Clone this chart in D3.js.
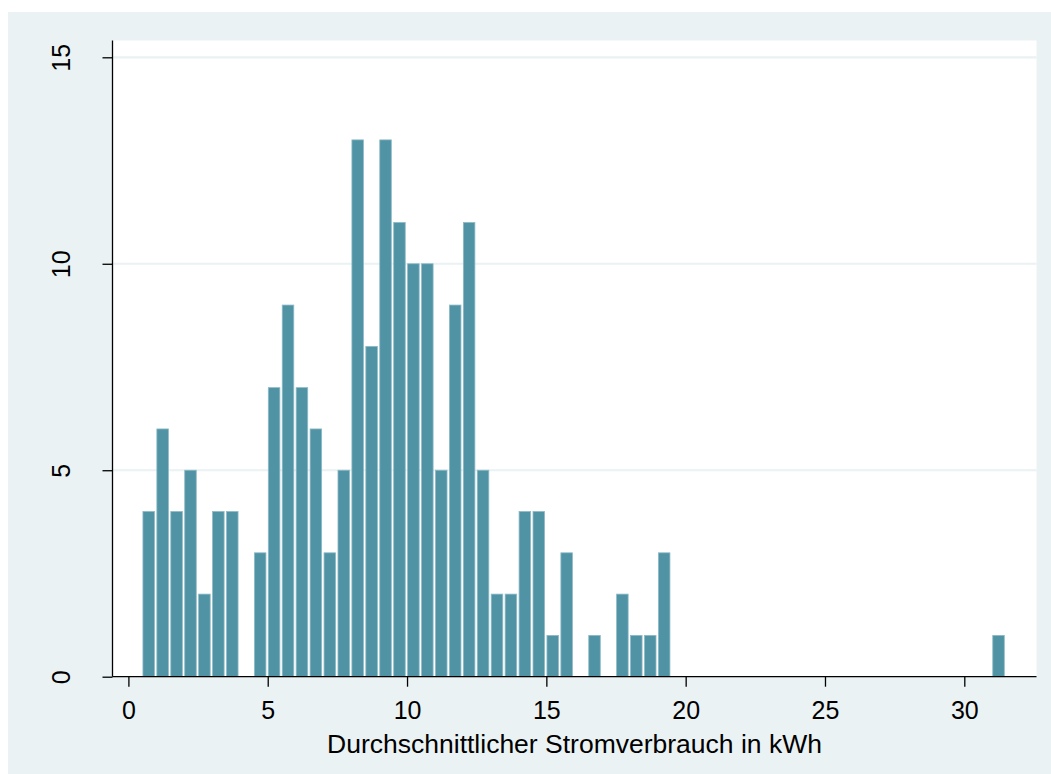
<!DOCTYPE html>
<html>
<head>
<meta charset="utf-8">
<script src="https://cdn.jsdelivr.net/npm/d3@7"></script>
<style>
  body { margin: 0; background: #fff; }
  text { font-family: "Liberation Sans", Arial, sans-serif; fill: #000; }
</style>
</head>
<body>
<div id="chart"></div>
<script>
/*************************************/
/* Data                              */
/*************************************/

// Histogram bins: left edge of first bin and bin width (kWh)
const binStart = 0.5;
const binWidth = 0.5;

// Frequency per bin, from 0.5 kWh upwards
const counts = [
  4, 6, 4, 5, 2, 4, 4, 0, 3, 7,
  9, 7, 6, 3, 5, 13, 8, 13, 11, 10,
  10, 5, 9, 11, 5, 2, 2, 4, 4, 1,
  3, 0, 1, 0, 2, 1, 1, 3, 0, 0,
  0, 0, 0, 0, 0, 0, 0, 0, 0, 0,
  0, 0, 0, 0, 0, 0, 0, 0, 0, 0,
  0, 1
];

const xTicks = [0, 5, 10, 15, 20, 25, 30];
const yTicks = [0, 5, 10, 15];
const xTitle = 'Durchschnittlicher Stromverbrauch in kWh';

const bins = counts.map((c, i) => ({ x0: binStart + i * binWidth, x1: binStart + (i + 1) * binWidth, n: c }));

/*************************************/
/* Layout                            */
/*************************************/

const width = 1051;
const height = 774;
const plot = { left: 112.5, right: 1036.5, top: 40.5, bottom: 676.7 };

const x = d3.scaleLinear().domain([0, 30]).range([128.4, 964.3]);
const y = d3.scaleLinear().domain([0, 15]).range([plot.bottom, 57.3]);

const svg = d3.select('#chart')
  .append('svg')
  .attr('width', width)
  .attr('height', height);

// Outer graph region
svg.append('rect')
  .attr('x', 8).attr('y', 12)
  .attr('width', width - 8).attr('height', height - 12)
  .attr('fill', '#eaf2f3');

// Plot region
svg.append('rect')
  .attr('x', plot.left).attr('y', plot.top)
  .attr('width', plot.right - plot.left).attr('height', plot.bottom - plot.top)
  .attr('fill', '#fff');

// Grid lines
svg.append('g')
  .selectAll('line')
  .data(yTicks.filter(d => d > 0))
  .join('line')
    .attr('x1', plot.left).attr('x2', plot.right)
    .attr('y1', d => y(d)).attr('y2', d => y(d))
    .attr('stroke', '#eaf2f3')
    .attr('stroke-width', 2.2);

// Bars
svg.append('g')
  .selectAll('rect')
  .data(bins.filter(d => d.n > 0))
  .join('rect')
    .attr('x', d => x(d.x0) + 0.6)
    .attr('width', d => x(d.x1) - x(d.x0) - 2.4)
    .attr('y', d => y(d.n))
    .attr('height', d => y(0) - y(d.n))
    .attr('fill', '#4f93a5')
    .attr('stroke', '#8dbac6')
    .attr('stroke-width', 0.8);

// Axis lines
svg.append('line')
  .attr('x1', plot.left).attr('x2', plot.left)
  .attr('y1', plot.top).attr('y2', plot.bottom)
  .attr('stroke', '#000').attr('stroke-width', 1.3);

svg.append('line')
  .attr('x1', plot.left).attr('x2', plot.right)
  .attr('y1', plot.bottom).attr('y2', plot.bottom)
  .attr('stroke', '#000').attr('stroke-width', 1.3);

// X axis
const xAxis = svg.append('g')
  .attr('transform', `translate(0,${plot.bottom})`)
  .call(d3.axisBottom(x).tickValues(xTicks).tickSize(10).tickSizeOuter(0).tickPadding(0));
xAxis.select('.domain').remove();
xAxis.selectAll('.tick line').attr('stroke', '#000').attr('stroke-width', 1.3);
xAxis.selectAll('.tick text')
  .attr('y', 42)
  .attr('dy', null)
  .style('font-size', '25px');

// Y axis
const yAxis = svg.append('g')
  .attr('transform', `translate(${plot.left},0)`)
  .call(d3.axisLeft(y).tickValues(yTicks).tickSize(10).tickSizeOuter(0));
yAxis.select('.domain').remove();
yAxis.selectAll('.tick line').attr('stroke', '#000').attr('stroke-width', 1.3);
yAxis.selectAll('.tick text')
  .attr('x', null).attr('dy', null)
  .attr('text-anchor', 'middle')
  .attr('transform', 'translate(-43,0) rotate(-90)')
  .style('font-size', '25px');

// X title
svg.append('text')
  .attr('x', (plot.left + plot.right) / 2)
  .attr('y', 753)
  .attr('text-anchor', 'middle')
  .style('font-size', '26.5px')
  .text(xTitle);
</script>
</body>
</html>
